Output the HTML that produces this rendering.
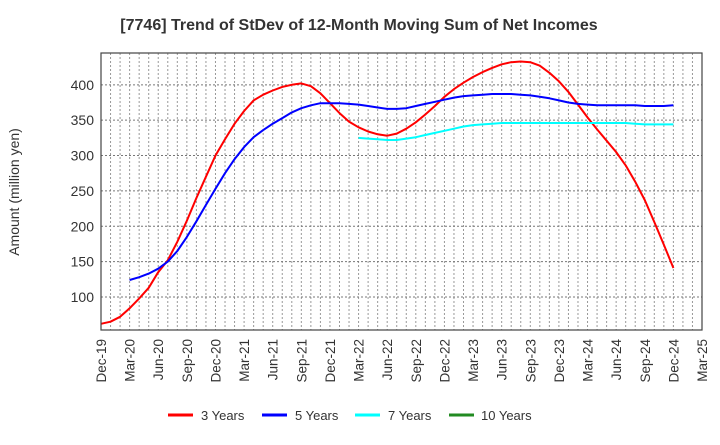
<!DOCTYPE html>
<html><head><meta charset="utf-8">
<style>
body{margin:0;background:#fff;width:720px;height:440px;overflow:hidden;font-family:"Liberation Sans",sans-serif}
</style></head>
<body>
<svg id="chart" width="720" height="440" xmlns="http://www.w3.org/2000/svg">
<text x="359" y="30" text-anchor="middle" font-size="16" font-weight="bold" fill="#333">[7746]  Trend of StDev of 12-Month Moving Sum of Net Incomes</text>
<text transform="translate(19,192) rotate(-90)" text-anchor="middle" font-size="14" fill="#333">Amount (million yen)</text>
<g id="grid"></g>
<g id="series"></g>
<rect x="101" y="53" width="601" height="277" fill="none" stroke="#444" stroke-width="1.2"/>
<g id="legend" font-size="13" fill="#333">
<g><line x1="168" y1="415" x2="193" y2="415" stroke="#ff0000" stroke-width="3"/><text x="201" y="420">3 Years</text></g>
<g><line x1="262" y1="415" x2="287" y2="415" stroke="#0000ff" stroke-width="3"/><text x="295" y="420">5 Years</text></g>
<g><line x1="355" y1="415" x2="380" y2="415" stroke="#00ffff" stroke-width="3"/><text x="388" y="420">7 Years</text></g>
<g><line x1="449" y1="415" x2="474" y2="415" stroke="#228b22" stroke-width="3"/><text x="481" y="420">10 Years</text></g>
</g>
</svg>
<script>
const xTickLabels = ["Dec-19","Mar-20","Jun-20","Sep-20","Dec-20","Mar-21","Jun-21","Sep-21","Dec-21","Mar-22","Jun-22","Sep-22","Dec-22","Mar-23","Jun-23","Sep-23","Dec-23","Mar-24","Jun-24","Sep-24","Dec-24","Mar-25"];
const yTicks = [100,150,200,250,300,350,400];
// monthly values; start offset in months from Dec-19
const s3Start = 0;
const s3 = [62,65,72,84,98,113,135,152,178,208,240,270,300,323,345,363,378,386,392,397,400,402,398,388,374,360,348,340,334,330,328,331,338,347,358,370,383,394,403,411,418,424,429,432,433,432,427,417,405,390,372,354,337,321,305,286,263,237,206,174,141];
const s5Start = 3;
const s5 = [124,128,133,140,150,165,185,207,230,253,275,295,312,326,336,345,353,361,367,371,374,374,374,373,372,370,368,366,366,367,370,373,376,379,382,384,385,386,387,387,387,386,385,383,381,378,375,373,372,371,371,371,371,371,370,370,370,371];
const s7Start = 27;
const s7 = [325,324,323,322,322,324,326,329,332,335,338,341,343,344,345,346,346,346,346,346,346,346,346,346,346,346,346,346,346,345,344,344,344,344];
const s10 = [];

const NS="http://www.w3.org/2000/svg";
const X0=101,X1=702,Y0=53,Y1=330,MONTHS=63,VMIN=53.3,VMAX=445;
const xs=m=>X0+(X1-X0)*m/MONTHS;
const ys=v=>Y1-(v-VMIN)/(VMAX-VMIN)*(Y1-Y0);
const grid=document.getElementById('grid');
function mk(tag,attrs,parent){const e=document.createElementNS(NS,tag);for(const k in attrs)e.setAttribute(k,attrs[k]);parent.appendChild(e);return e;}
for(let m=1;m<MONTHS;m++){
  const l=mk('line',{x1:xs(m),x2:xs(m),y1:Y0,y2:Y1,stroke:'#999','stroke-width':1,'stroke-dasharray':'2,2'},grid);
  
  
}
yTicks.forEach(v=>{
  const l=mk('line',{x1:X0,x2:X1,y1:ys(v),y2:ys(v),stroke:'#777','stroke-width':1,'stroke-dasharray':'2,2'},grid);
  
  
  const t=mk('text',{x:94,y:ys(v)+5,'text-anchor':'end','font-size':14,fill:'#333'},grid);
  t.textContent=v;
  
  
});
xTickLabels.forEach((lab,i)=>{
  const x=xs(i*3);
  const t=mk('text',{transform:`translate(${x+5},339) rotate(-90)`,'text-anchor':'end','font-size':13.5,fill:'#333'},grid);
  t.textContent=lab;
  
  
});
const ser=document.getElementById('series');
function draw(arr,start,color,name){
  if(!arr.length)return;
  const pts=arr.map((v,i)=>xs(start+i).toFixed(1)+','+ys(v).toFixed(1)).join(' ');
  const p=mk('polyline',{points:pts,fill:'none',stroke:color,'stroke-width':2,'stroke-linejoin':'round'},ser);
  
  
}
draw(s3,s3Start,'#ff0000','line-3-years');
draw(s5,s5Start,'#0000ff','line-5-years');
draw(s7,s7Start,'#00ffff','line-7-years');
draw(s10,0,'#228b22','line-10-years');
</script>
</body></html>
